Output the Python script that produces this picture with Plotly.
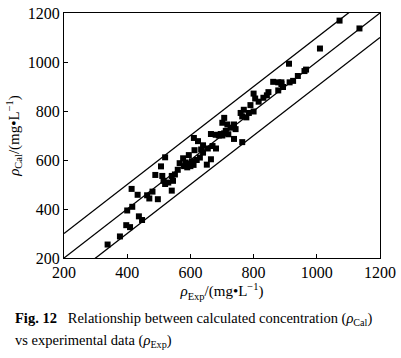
import plotly.graph_objects as go

exp_vals = [338, 377, 397, 409, 400, 416, 437, 447, 414, 433, 463, 470, 480, 497, 489, 507, 520, 511, 515, 520,
            530, 541, 541, 551, 545, 566, 577, 580, 585, 590, 595, 600, 605, 610, 595, 613, 611, 624, 634, 655,
            652, 665, 670, 681, 665, 680, 696, 707, 701, 712, 727, 743, 717, 738, 701, 707, 738, 764, 759, 764,
            777, 769, 785, 800, 790, 816, 800, 805, 831, 842, 847, 862, 878, 888, 893, 878, 888, 914, 925, 940,
            961, 966, 912, 1010, 1072, 1135, 620, 630, 640, 560, 690, 720, 640]
cal_vals = [255, 288, 334, 326, 394, 409, 370, 355, 482, 458, 456, 443, 471, 440, 539, 574, 611, 535, 515, 502,
            508, 475, 535, 541, 515, 587, 607, 575, 590, 570, 582, 575, 595, 580, 620, 640, 690, 677, 643, 647,
            581, 603, 657, 647, 706, 703, 706, 709, 700, 719, 732, 726, 745, 745, 752, 772, 686, 673, 792, 778,
            774, 805, 792, 798, 824, 838, 871, 851, 854, 864, 877, 919, 884, 910, 898, 917, 917, 917, 923, 943,
            963, 969, 993, 1055, 1169, 1137, 600, 610, 630, 560, 700, 705, 660]

line_x = [200, 1200]
offsets = [100, 0, -100]
tick_vals = [200, 400, 600, 800, 1000, 1200]

FONT = "Liberation Serif"

fig = go.Figure()
for off in offsets:
    fig.add_trace(go.Scatter(x=line_x, y=[v + off for v in line_x], mode="lines",
                             line=dict(color="black", width=1.3), showlegend=False, hoverinfo="skip"))
fig.add_trace(go.Scatter(x=exp_vals, y=cal_vals, mode="markers",
                         marker=dict(symbol="square", size=6, color="black"), showlegend=False))

axis_common = dict(range=[200, 1200], tickvals=tick_vals, ticks="inside", ticklen=4, tickwidth=1,
                   tickcolor="black", showline=True, linecolor="black", linewidth=1, mirror=True,
                   showgrid=False, zeroline=False, ticklabeloverflow="allow",
                   tickfont=dict(family=FONT, size=16, color="black"))

fig.update_layout(
    width=401, height=358,
    margin=dict(l=64, r=16, t=5, b=100),
    paper_bgcolor="white", plot_bgcolor="white",
    font=dict(family=FONT, color="black"),
    xaxis=dict(**axis_common,
               title=dict(text="<i>ρ</i><sub>Exp</sub>/(mg•L<sup>−1</sup>)", font=dict(family=FONT, size=15), standoff=2)),
    yaxis=dict(**axis_common,
               title=dict(text="<i>ρ</i><sub>Cal</sub>/(mg•L<sup>−1</sup>)", font=dict(family=FONT, size=15), standoff=4)),
    annotations=[
        dict(text="<b>Fig. 12</b>   Relationship between calculated concentration (<i>ρ</i><sub>Cal</sub>)",
             x=12, y=321, xref="paper", yref="paper", showarrow=False, xanchor="left", yanchor="middle",
             font=dict(family=FONT, size=14.5, color="black")),
        dict(text="vs experimental data (<i>ρ</i><sub>Exp</sub>)",
             x=12, y=344, xref="paper", yref="paper", showarrow=False, xanchor="left", yanchor="middle",
             font=dict(family=FONT, size=14.5, color="black")),
    ],
)

# annotation positions given in pixels above; convert to paper coordinates
plot_h = 358 - 5 - 100
plot_w = 401 - 64 - 16
for ann in fig.layout.annotations:
    px, py = ann.x, ann.y
    ann.x = (px - 64) / plot_w
    ann.y = (358 - 100 - py) / plot_h

fig.write_html("out.html", config={"displayModeBar": False},
               post_script="document.body.style.margin='0';document.body.style.overflow='hidden';")
